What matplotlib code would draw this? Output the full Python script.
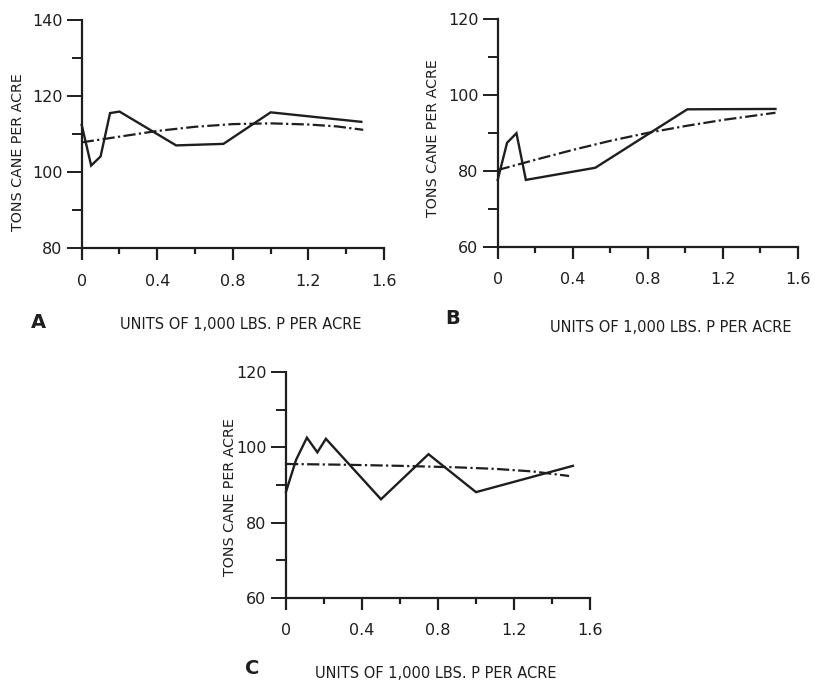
import matplotlib
matplotlib.use("Agg")
import matplotlib.pyplot as plt
from matplotlib.ticker import MultipleLocator

# ---- data ----
a_x = [0, 0.05, 0.10, 0.15, 0.20, 0.50, 0.75, 1.0, 1.48]
a_y = [112.4, 101.7, 104.1, 115.5, 115.9, 107.0, 107.4, 115.7, 113.2]
a_fit_x = [0, 0.2, 0.4, 0.6, 0.8, 1.0, 1.2, 1.35, 1.49]
a_fit_y = [107.8, 109.3, 110.8, 111.9, 112.6, 112.8, 112.5, 112.0, 111.1]

b_x = [0, 0.05, 0.10, 0.15, 0.52, 1.01, 1.48]
b_y = [77.6, 87.4, 89.9, 77.6, 80.8, 96.2, 96.3]
b_fit_x = [0, 0.2, 0.4, 0.6, 0.8, 1.0, 1.2, 1.48]
b_fit_y = [80.2, 82.9, 85.5, 87.9, 90.0, 91.8, 93.4, 95.3]

c_x = [0, 0.053, 0.11, 0.165, 0.21, 0.50, 0.75, 1.0, 1.51]
c_y = [88.2, 96.7, 102.6, 98.7, 102.3, 86.2, 98.2, 88.1, 95.1]
c_fit_x = [0, 0.3, 0.6, 0.9, 1.1, 1.3, 1.49]
c_fit_y = [95.6, 95.4, 95.1, 94.7, 94.3, 93.6, 92.4]

x_ticks = [0, 0.4, 0.8, 1.2, 1.6]
x_tick_labels = ["0", "0.4", "0.8", "1.2", "1.6"]
a_yticks = [80, 100, 120, 140]
bc_yticks = [60, 80, 100, 120]

xlabel_text = "UNITS OF 1,000 LBS. P PER ACRE"
ylabel_text = "TONS CANE PER ACRE"

W, H = 816, 681
fig = plt.figure(figsize=(W / 100, H / 100), dpi=100)
fig.patch.set_facecolor("white")

ink = "#1e1e1e"
plt.rcParams["font.family"] = ["DejaVu Sans"]


def px_axes(left, top, right, bottom):
    return fig.add_axes([left / W, 1 - bottom / H, (right - left) / W, (bottom - top) / H])


def style(ax, ylim, yticks):
    ax.set_xlim(0, 1.6)
    ax.set_ylim(*ylim)
    for s in ("top", "right"):
        ax.spines[s].set_visible(False)
    for s in ("left", "bottom"):
        ax.spines[s].set_linewidth(1.6)
        ax.spines[s].set_color(ink)
    ax.set_xticks(x_ticks)
    ax.set_xticklabels(x_tick_labels)
    ax.set_yticks(yticks)
    ax.xaxis.set_minor_locator(MultipleLocator(0.2))
    ax.yaxis.set_minor_locator(MultipleLocator(10))
    ax.tick_params(axis="x", which="major", direction="out", length=8.5, width=1.6,
                   pad=10, labelsize=11.5, colors=ink)
    ax.tick_params(axis="x", which="minor", direction="out", length=4.5, width=1.6, colors=ink)
    ax.tick_params(axis="y", which="major", direction="out", length=11, width=1.4,
                   pad=3, labelsize=11.5, colors=ink)
    ax.tick_params(axis="y", which="minor", direction="out", length=7, width=1.4, colors=ink)
    ax.set_facecolor("none")


def draw(ax, x, y, fx, fy):
    ax.plot(x, y, color=ink, lw=1.7, solid_joinstyle="miter", clip_on=False)
    ax.plot(fx, fy, color=ink, lw=1.6, linestyle=(0, (5.5, 1.5, 1, 1.5)), clip_on=False)


# Panel A
axA = px_axes(81.7, 20, 384, 248)
style(axA, (80, 140), a_yticks)
draw(axA, a_x, a_y, a_fit_x, a_fit_y)
fig.text(18 / W, 1 - 152 / H, ylabel_text, rotation=90, ha="center", va="center",
         fontsize=10.3, color=ink)
fig.text(241 / W, 1 - 325 / H, xlabel_text, ha="center", va="center", fontsize=10.5, color=ink)
fig.text(38 / W, 1 - 322 / H, "A", ha="center", va="center", fontsize=14,
         fontweight="bold", color=ink)

# Panel B
axB = px_axes(497.7, 19, 798, 246.7)
style(axB, (60, 120), bc_yticks)
draw(axB, b_x, b_y, b_fit_x, b_fit_y)
fig.text(433 / W, 1 - 138 / H, ylabel_text, rotation=90, ha="center", va="center",
         fontsize=10.3, color=ink)
fig.text(671 / W, 1 - 328 / H, xlabel_text, ha="center", va="center", fontsize=10.5, color=ink)
fig.text(453 / W, 1 - 318 / H, "B", ha="center", va="center", fontsize=14,
         fontweight="bold", color=ink)

# Panel C
axC = px_axes(286, 372.3, 590, 597.7)
style(axC, (60, 120), bc_yticks)
draw(axC, c_x, c_y, c_fit_x, c_fit_y)
fig.text(230 / W, 1 - 497 / H, ylabel_text, rotation=90, ha="center", va="center",
         fontsize=10.3, color=ink)
fig.text(436 / W, 1 - 673 / H, xlabel_text, ha="center", va="center", fontsize=10.5, color=ink)
fig.text(252 / W, 1 - 668 / H, "C", ha="center", va="center", fontsize=14,
         fontweight="bold", color=ink)

fig.savefig("out.png", dpi=100, facecolor="white")
